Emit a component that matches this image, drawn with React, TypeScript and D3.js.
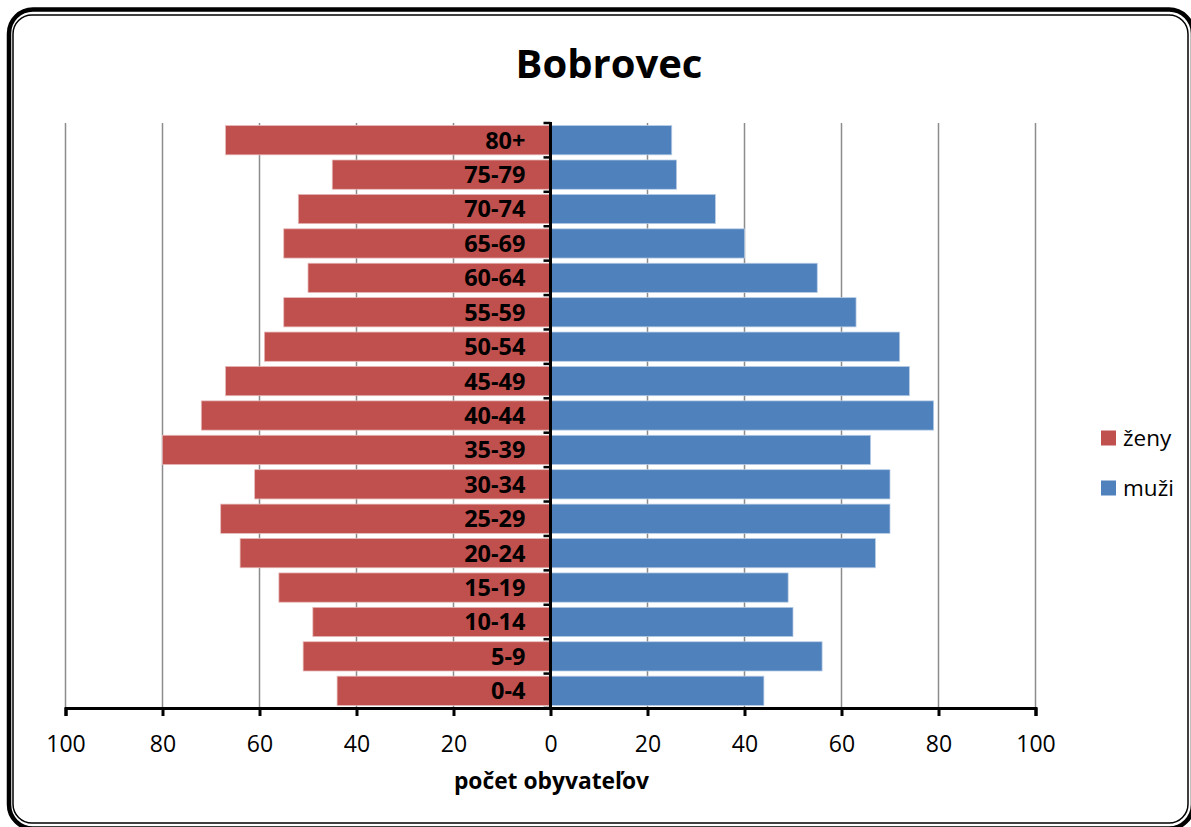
import { useEffect, useRef } from 'react';
import * as d3 from 'd3';

// age groups, top to bottom as drawn
const ageGroups = ['80+', '75-79', '70-74', '65-69', '60-64', '55-59', '50-54', '45-49', '40-44', '35-39', '30-34', '25-29', '20-24', '15-19', '10-14', '5-9', '0-4'];
const zeny = [67, 45, 52, 55, 50, 55, 59, 67, 72, 80, 61, 68, 64, 56, 49, 51, 44];
const muzi = [25, 26, 34, 40, 55, 63, 72, 74, 79, 66, 70, 70, 67, 49, 50, 56, 44];
const xTicks = [-100, -80, -60, -40, -20, 0, 20, 40, 60, 80, 100];
const seriesNames = ['ženy', 'muži'];
const seriesColors = ['#C0504D', '#4F81BD'];

const FONT = '"Open Sans", "DejaVu Sans", sans-serif';

export default function App() {
  const svgRef = useRef<SVGSVGElement>(null);

  useEffect(() => {
    if (!svgRef.current) return;
    const svg = d3.select(svgRef.current);
    svg.selectAll('*').remove();

    const width = 1191;
    const height = 827;

    svg.append('rect').attr('width', width).attr('height', height).attr('fill', '#fff');

    // frame: thick outer line + thin inner line, rounded (right side runs off the picture)
    svg.append('rect')
      .attr('x', 9).attr('y', 9.5)
      .attr('width', 1184).attr('height', 819)
      .attr('rx', 24)
      .attr('fill', 'none').attr('stroke', '#000').attr('stroke-width', 4.5);
    svg.append('rect')
      .attr('x', 13).attr('y', 15)
      .attr('width', 1175).attr('height', 808)
      .attr('rx', 19)
      .attr('fill', 'none').attr('stroke', '#000').attr('stroke-width', 1.5);

    const x = d3.scaleLinear().domain([-100, 100]).range([65.5, 1035.5]);
    const y = d3.scaleBand<string>()
      .domain(ageGroups)
      .range([123, 708])
      .paddingInner(0.15)
      .paddingOuter(0.075);

    const g = svg.append('g');

    // gridlines
    g.selectAll('.grid')
      .data(xTicks.filter(t => t !== 0))
      .enter()
      .append('line')
      .attr('x1', d => x(d)).attr('x2', d => x(d))
      .attr('y1', 123).attr('y2', 708)
      .attr('stroke', '#8c8c8c')
      .attr('stroke-width', 1.5);

    // bars
    const rows = ageGroups.map((a, i) => ({ age: a, z: zeny[i], m: muzi[i] }));

    g.selectAll('.bar-z')
      .data(rows)
      .enter()
      .append('rect')
      .attr('x', d => x(-d.z))
      .attr('y', d => y(d.age)!)
      .attr('width', d => x(0) - x(-d.z))
      .attr('height', y.bandwidth())
      .attr('fill', seriesColors[0])
      .attr('stroke', '#e6b9b8')
      .attr('stroke-width', 0.75);

    g.selectAll('.bar-m')
      .data(rows)
      .enter()
      .append('rect')
      .attr('x', x(0))
      .attr('y', d => y(d.age)!)
      .attr('width', d => x(d.m) - x(0))
      .attr('height', y.bandwidth())
      .attr('fill', seriesColors[1])
      .attr('stroke', '#b9cde5')
      .attr('stroke-width', 0.75);

    // vertical (category) axis with ticks between bands
    const half = (y.step() * y.paddingInner()) / 2;
    const bounds = ageGroups.map(a => y(a)! - half).concat([708]);
    g.selectAll('.ytick')
      .data(bounds)
      .enter()
      .append('line')
      .attr('x1', x(0) - 7).attr('x2', x(0))
      .attr('y1', d => d).attr('y2', d => d)
      .attr('stroke', '#000').attr('stroke-width', 2.5);
    g.append('line')
      .attr('x1', x(0)).attr('x2', x(0))
      .attr('y1', 122).attr('y2', 709)
      .attr('stroke', '#000').attr('stroke-width', 3);

    // category labels
    g.selectAll('.ylabel')
      .data(ageGroups)
      .enter()
      .append('text')
      .attr('x', x(0) - 25)
      .attr('y', d => y(d)! + y.bandwidth() / 2)
      .attr('dy', '0.36em')
      .attr('text-anchor', 'end')
      .attr('font-family', FONT)
      .attr('font-weight', 700)
      .attr('font-size', 23.5)
      .attr('fill', '#000')
      .text(d => d);

    // horizontal axis
    const xAxis = g.append('g')
      .attr('transform', 'translate(0,708)')
      .call(
        d3.axisBottom(x)
          .tickValues(xTicks)
          .tickSize(8)
          .tickPadding(20)
          .tickFormat(d => String(Math.abs(+d)))
      );
    xAxis.select('.domain').attr('stroke', '#000').attr('stroke-width', 3);
    xAxis.selectAll('.tick line').attr('stroke', '#000').attr('stroke-width', 3);
    xAxis.selectAll('.tick text')
      .attr('font-family', FONT)
      .attr('font-size', 23)
      .attr('fill', '#000');

    // axis title
    svg.append('text')
      .attr('x', 551.5).attr('y', 789)
      .attr('text-anchor', 'middle')
      .attr('font-family', FONT)
      .attr('font-weight', 700)
      .attr('font-size', 22.8)
      .text('počet obyvateľov');

    // chart title
    svg.append('text')
      .attr('x', 609).attr('y', 78)
      .attr('text-anchor', 'middle')
      .attr('font-family', FONT)
      .attr('font-weight', 700)
      .attr('font-size', 40)
      .text('Bobrovec');

    // legend
    const legend = svg.append('g');
    seriesNames.forEach((name, i) => {
      const ly = 438 + i * 50;
      legend.append('rect')
        .attr('x', 1101).attr('y', ly - 7.5)
        .attr('width', 15).attr('height', 15)
        .attr('fill', seriesColors[i]);
      legend.append('text')
        .attr('x', 1123).attr('y', ly)
        .attr('dy', '0.36em')
        .attr('font-family', FONT)
        .attr('font-size', 22.5)
        .attr('fill', '#000')
        .text(name);
    });
  }, []);

  return (
    <div>
      <style>{'body{margin:0;}'}</style>
      <svg ref={svgRef} width={1191} height={827} style={{ display: 'block' }} />
    </div>
  );
}
